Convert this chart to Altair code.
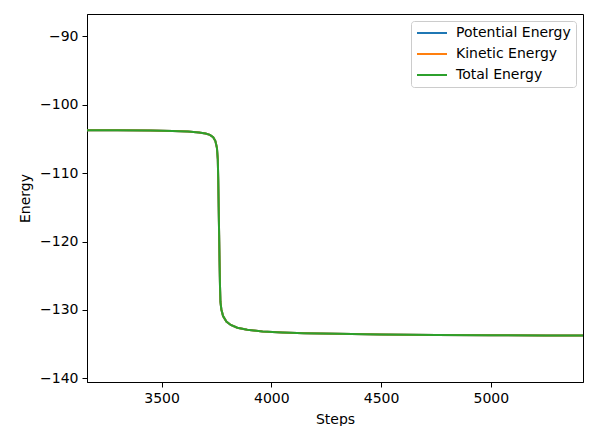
import altair as alt
import pandas as pd

steps = [3160, 3300, 3450, 3550, 3620, 3670, 3700, 3720, 3735, 3745, 3752, 3756,
         3758, 3760, 3762, 3764, 3766, 3768, 3772, 3780, 3795, 3815, 3845, 3890,
         3960, 4050, 4150, 4300, 4500, 4750, 5000, 5250, 5420]
total_energy = [-103.72, -103.73, -103.76, -103.82, -103.92, -104.05, -104.2, -104.4,
                -104.75, -105.3, -106.3, -108.0, -111.0, -115.0, -119.0, -123.0,
                -126.5, -128.8, -129.9, -130.9, -131.7, -132.2, -132.6, -132.9,
                -133.15, -133.3, -133.4, -133.5, -133.6, -133.66, -133.7, -133.73, -133.75]
potential_energy = list(total_energy)
kinetic_energy = list(total_energy)

series_names = ["Potential Energy", "Kinetic Energy", "Total Energy"]
series_colors = ["#1f77b4", "#ff7f0e", "#2ca02c"]
x_ticks = [3500, 4000, 4500, 5000]
y_ticks = [-140, -130, -120, -110, -100, -90]

rows = []
for name, vals in zip(series_names, [potential_energy, kinetic_energy, total_energy]):
    for i, (s, v) in enumerate(zip(steps, vals)):
        rows.append({"Steps": s, "Energy": v, "series": name, "idx": i})
df = pd.DataFrame(rows)

font = "DejaVu Sans"

chart = alt.Chart(df).mark_line(strokeWidth=2, clip=True).encode(
    x=alt.X("Steps:Q",
            scale=alt.Scale(domain=[3160, 5420], nice=False, zero=False),
            axis=alt.Axis(values=x_ticks, format="d", title="Steps", grid=False,
                          tickSize=5, labelPadding=4, titlePadding=7)),
    y=alt.Y("Energy:Q",
            scale=alt.Scale(domain=[-140.54, -86.73], nice=False, zero=False),
            axis=alt.Axis(values=y_ticks, format="d", title="Energy", grid=False,
                          tickSize=5, labelPadding=4, titlePadding=7)),
    color=alt.Color("series:N",
                    scale=alt.Scale(domain=series_names, range=series_colors),
                    sort=series_names,
                    legend=alt.Legend(title=None, orient="none", legendX=324, legendY=7,
                                      symbolType="M-3,0L3,0", symbolSize=100,
                                      symbolStrokeWidth=2, symbolOffset=9,
                                      labelOffset=17, rowPadding=7,
                                      padding=5, strokeColor="#cccccc",
                                      cornerRadius=3, fillColor="white",
                                      labelFont=font, labelFontSize=14,
                                      labelColor="black")),
    order=alt.Order("idx:Q"),
    detail="series:N",
).properties(
    width=496,
    height=368,
    autosize=alt.AutoSizeParams(type="none"),
    padding={"left": 79, "top": 6, "right": 10, "bottom": 44},
).configure_view(
    stroke="black", strokeWidth=1
).configure_axis(
    labelFont=font, titleFont=font, labelFontSize=14, titleFontSize=14,
    labelColor="black", titleColor="black", titleFontWeight="normal",
    domainColor="black", tickColor="black", domainWidth=1, tickWidth=1,
)

chart.save("out.html", embed_options={"renderer": "svg", "actions": False})
